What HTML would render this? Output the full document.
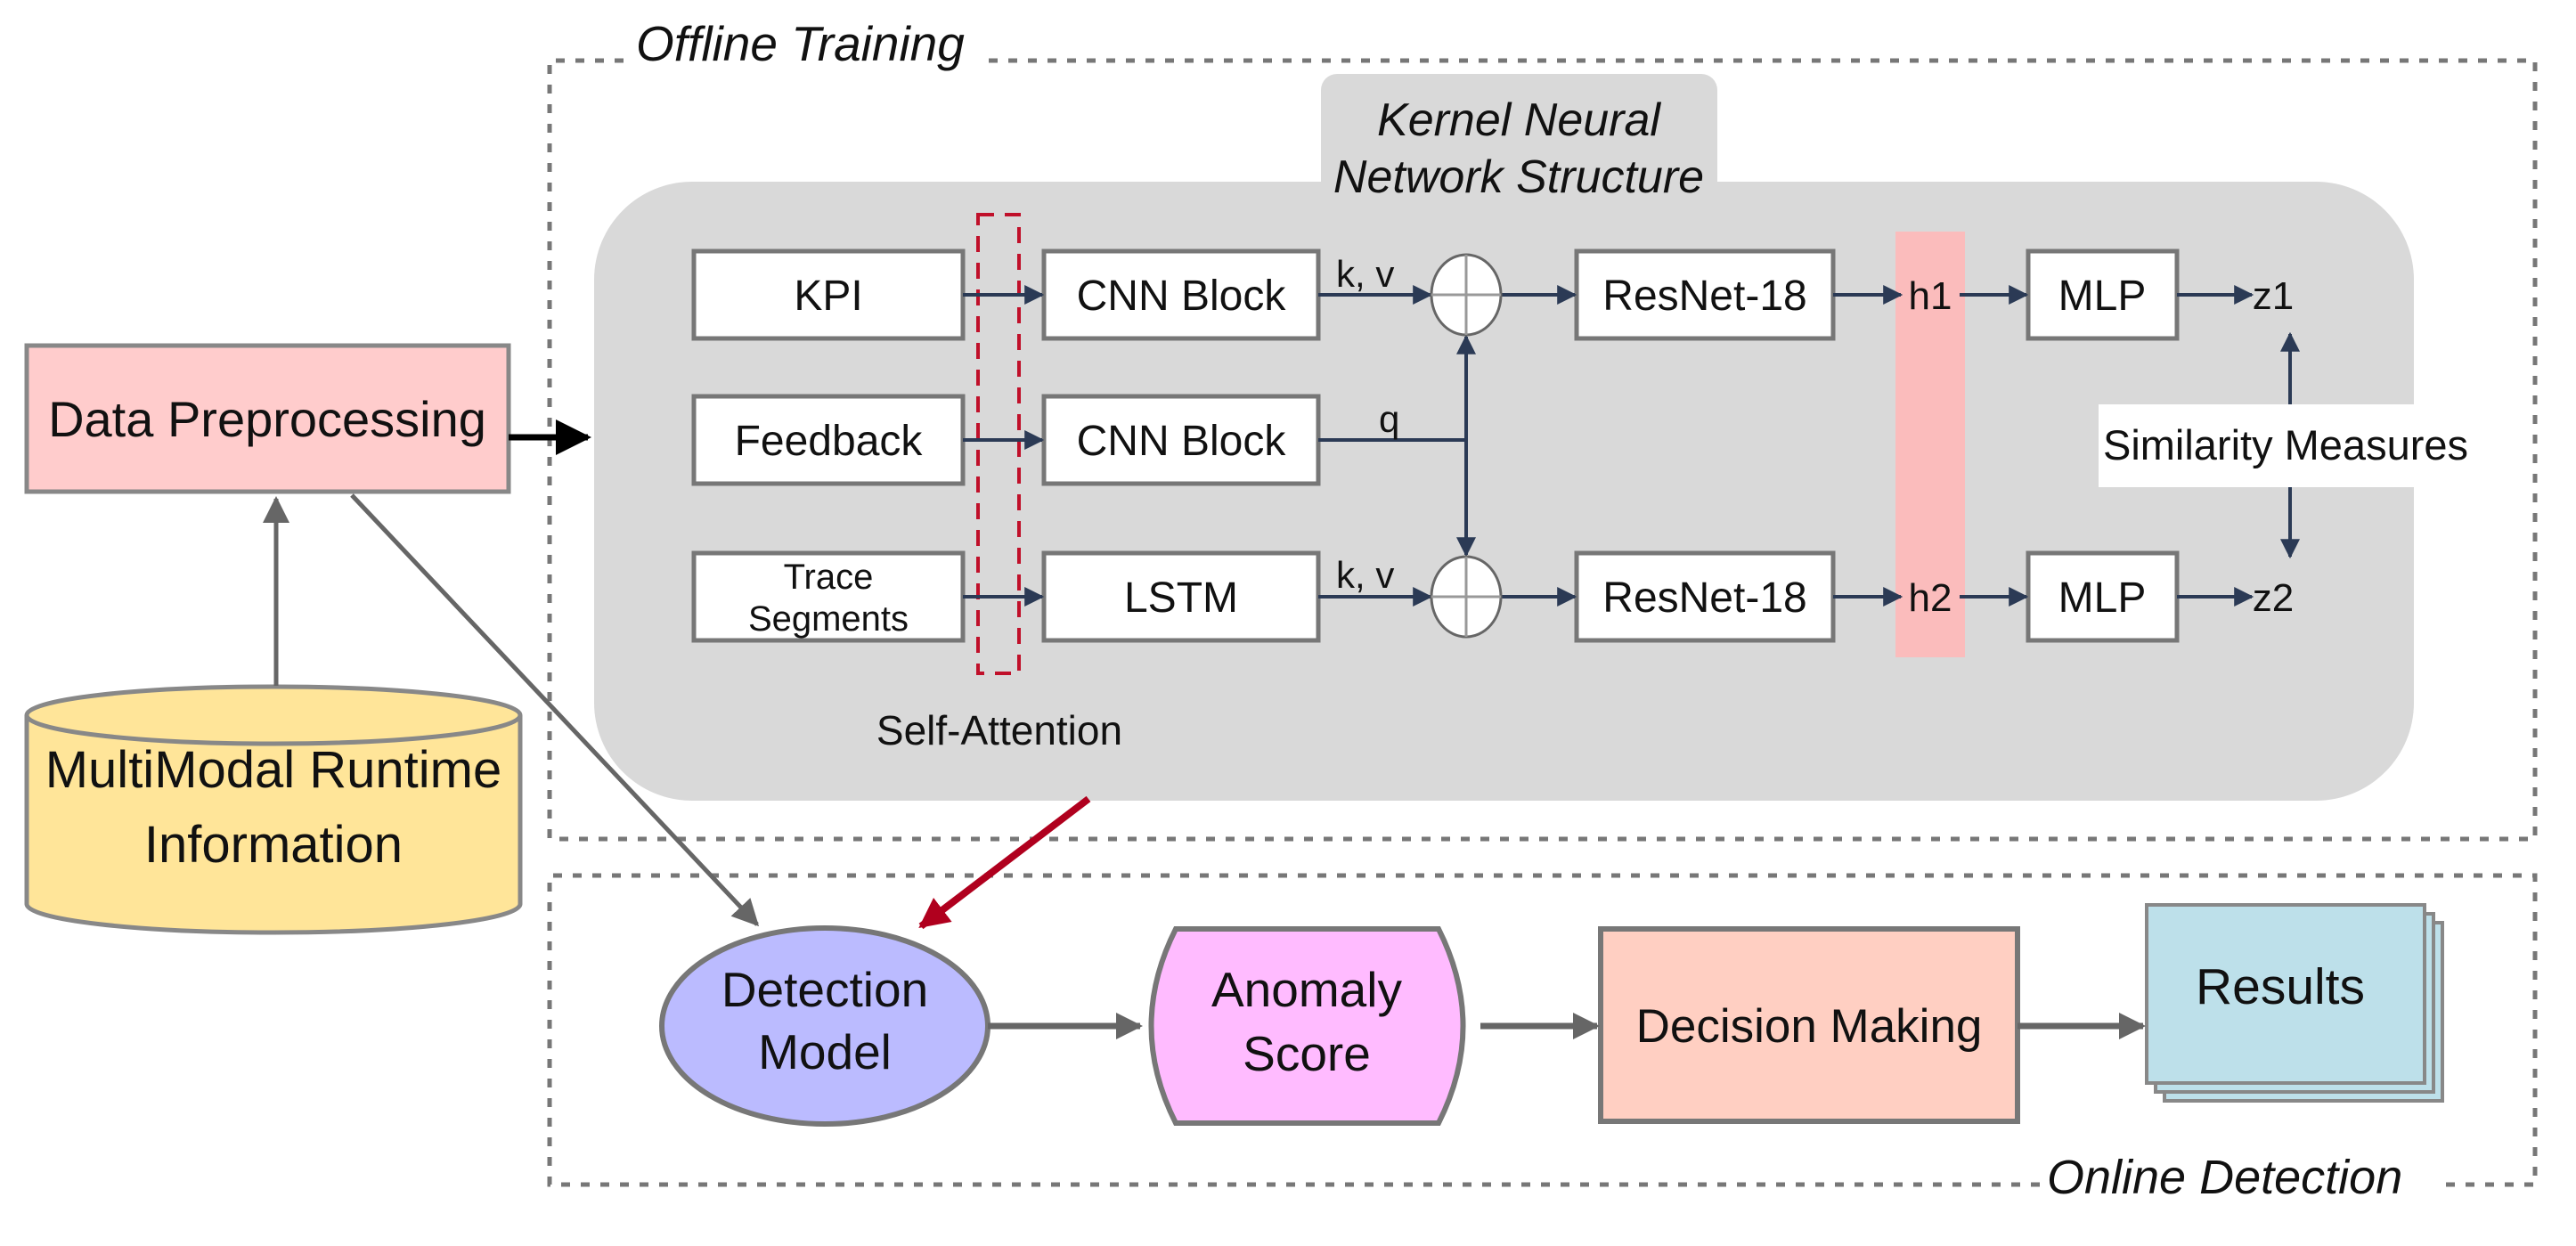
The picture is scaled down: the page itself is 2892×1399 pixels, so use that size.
<!DOCTYPE html>
<html><head><meta charset="utf-8"><style>
html,body{margin:0;padding:0;background:#fff}
svg{display:block}
text{font-family:"Liberation Sans",Arial,sans-serif;fill:#111}
</style></head><body>
<svg width="2892" height="1399" viewBox="0 0 2892 1399" xmlns="http://www.w3.org/2000/svg">
<defs>
<marker id="nb" markerWidth="22" markerHeight="22" refX="9" refY="5" orient="auto" markerUnits="userSpaceOnUse" viewBox="0 0 10 10"><path d="M0,0 L10,5 L0,10 z" fill="#2b3a55"/></marker>
<marker id="ga" viewBox="0 0 10 10" refX="9" refY="5" markerWidth="30" markerHeight="30" orient="auto" markerUnits="userSpaceOnUse"><path d="M0,0 L10,5 L0,10 z" fill="#666"/></marker>
<marker id="ra" viewBox="0 0 10 10" refX="9" refY="5" markerWidth="34" markerHeight="34" orient="auto" markerUnits="userSpaceOnUse"><path d="M0,0 L10,5 L0,10 z" fill="#b0001e"/></marker>
<marker id="ba" viewBox="0 0 10 10" refX="9" refY="5" markerWidth="40" markerHeight="40" orient="auto" markerUnits="userSpaceOnUse"><path d="M0,0 L10,5 L0,10 z" fill="#000"/></marker>
</defs>

<path d="M700,68 H617 V942 H2846 V68 H1110" fill="none" stroke="#777" stroke-width="5" stroke-dasharray="10,12"/>
<text x="714" y="68" font-size="55" font-style="italic">Offline Training</text>

<path d="M2290,1330 H617 V983 H2846 V1330 H2745" fill="none" stroke="#777" stroke-width="5" stroke-dasharray="10,12"/>
<text x="2298" y="1340" font-size="54" font-style="italic">Online Detection</text>

<rect x="1483" y="83" width="445" height="170" rx="18" fill="#d9d9d9"/>
<rect x="667" y="204" width="2043" height="695" rx="110" fill="#d9d9d9"/>
<text x="1705" y="152" font-size="52" font-style="italic" text-anchor="middle">Kernel Neural</text>
<text x="1705" y="216" font-size="52" font-style="italic" text-anchor="middle">Network Structure</text>

<rect x="2128" y="260" width="78" height="478" fill="#fbbcbc"/>

<g fill="#fff" stroke="#777" stroke-width="5">
<rect x="779" y="282" width="302" height="98"/>
<rect x="779" y="445" width="302" height="98"/>
<rect x="779" y="621" width="302" height="98"/>
<rect x="1172" y="282" width="308" height="98"/>
<rect x="1172" y="445" width="308" height="98"/>
<rect x="1172" y="621" width="308" height="98"/>
<rect x="1770" y="282" width="288" height="98"/>
<rect x="1770" y="621" width="288" height="98"/>
<rect x="2277" y="282" width="167" height="98"/>
<rect x="2277" y="621" width="167" height="98"/>
</g>
<g font-size="48" text-anchor="middle">
<text x="930" y="348">KPI</text>
<text x="930" y="511">Feedback</text>
<text x="930" y="661" font-size="40">Trace</text>
<text x="930" y="708" font-size="40">Segments</text>
<text x="1326" y="348">CNN Block</text>
<text x="1326" y="511">CNN Block</text>
<text x="1326" y="687">LSTM</text>
<text x="1914" y="348">ResNet-18</text>
<text x="1914" y="687">ResNet-18</text>
<text x="2360" y="348">MLP</text>
<text x="2360" y="687">MLP</text>
<text x="2167" y="347" font-size="44">h1</text>
<text x="2167" y="686" font-size="44">h2</text>
<text x="2552" y="347" font-size="44">z1</text>
<text x="2552" y="686" font-size="44">z2</text>
<text x="1122" y="836" font-size="46">Self-Attention</text>
</g>

<rect x="1098" y="241" width="46" height="515" fill="none" stroke="#c0102a" stroke-width="4" stroke-dasharray="18,12"/>

<g stroke="#2b3a55" stroke-width="4" fill="none" marker-end="url(#nb)">
<line x1="1081" y1="331" x2="1170" y2="331"/>
<line x1="1081" y1="494" x2="1170" y2="494"/>
<line x1="1081" y1="670" x2="1170" y2="670"/>
<line x1="1480" y1="331" x2="1606" y2="331"/>
<line x1="1480" y1="670" x2="1606" y2="670"/>
<line x1="1686" y1="331" x2="1768" y2="331"/>
<line x1="1686" y1="670" x2="1768" y2="670"/>
<line x1="2058" y1="331" x2="2134" y2="331"/>
<line x1="2058" y1="670" x2="2134" y2="670"/>
<line x1="2200" y1="331" x2="2275" y2="331"/>
<line x1="2200" y1="670" x2="2275" y2="670"/>
<line x1="2444" y1="331" x2="2528" y2="331"/>
<line x1="2444" y1="670" x2="2528" y2="670"/>
<line x1="1646" y1="494" x2="1646" y2="378"/>
<line x1="1646" y1="494" x2="1646" y2="623"/>
<line x1="2571" y1="454" x2="2571" y2="375"/>
<line x1="2571" y1="547" x2="2571" y2="625"/>
</g>
<line x1="1480" y1="494" x2="1646" y2="494" stroke="#2b3a55" stroke-width="4"/>
<text x="1500" y="322" font-size="42">k, v</text>
<text x="1500" y="660" font-size="42">k, v</text>
<text x="1548" y="485" font-size="42">q</text>

<g fill="#fff" stroke="#666" stroke-width="3">
<ellipse cx="1646" cy="331" rx="39" ry="45"/>
<ellipse cx="1646" cy="670" rx="39" ry="45"/>
</g>
<g stroke="#999" stroke-width="3">
<line x1="1607" y1="331" x2="1685" y2="331"/><line x1="1646" y1="286" x2="1646" y2="376"/>
<line x1="1607" y1="670" x2="1685" y2="670"/><line x1="1646" y1="625" x2="1646" y2="715"/>
</g>

<rect x="2356" y="454" width="420" height="93" fill="#fff"/>
<text x="2566" y="516" font-size="47" text-anchor="middle">Similarity Measures</text>

<rect x="30" y="388" width="541" height="164" fill="#ffcccc" stroke="#888" stroke-width="5"/>
<text x="300" y="490" font-size="56" text-anchor="middle">Data Preprocessing</text>
<line x1="571" y1="491" x2="660" y2="491" stroke="#000" stroke-width="7" marker-end="url(#ba)"/>

<path d="M30,803 V1015 A277,32 0 0 0 584,1015 V803" fill="#ffe599" stroke="#888" stroke-width="5"/>
<ellipse cx="307" cy="803" rx="277" ry="32" fill="#ffe599" stroke="#888" stroke-width="5"/>
<text x="307" y="884" font-size="58" text-anchor="middle">MultiModal Runtime</text>
<text x="307" y="968" font-size="58" text-anchor="middle">Information</text>
<line x1="310" y1="770" x2="310" y2="560" stroke="#666" stroke-width="5" marker-end="url(#ga)"/>

<line x1="395" y1="556" x2="850" y2="1038" stroke="#666" stroke-width="5" marker-end="url(#ga)"/>
<line x1="1222" y1="897" x2="1034" y2="1040" stroke="#b0001e" stroke-width="8" marker-end="url(#ra)"/>

<ellipse cx="926" cy="1152" rx="183" ry="110" fill="#bbbbff" stroke="#777" stroke-width="6"/>
<text x="926" y="1130" font-size="55" text-anchor="middle">Detection</text>
<text x="926" y="1200" font-size="55" text-anchor="middle">Model</text>
<path d="M1320,1043 H1615 Q1670,1152 1615,1261 H1320 Q1265,1152 1320,1043 Z" fill="#ffbbff" stroke="#777" stroke-width="6"/>
<text x="1467" y="1130" font-size="55" text-anchor="middle">Anomaly</text>
<text x="1467" y="1202" font-size="55" text-anchor="middle">Score</text>
<rect x="1797" y="1043" width="468" height="216" fill="#ffcfc2" stroke="#777" stroke-width="6"/>
<text x="2031" y="1170" font-size="53" text-anchor="middle">Decision Making</text>
<rect x="2430" y="1036" width="312" height="200" fill="#bde0ea" stroke="#888" stroke-width="4"/>
<rect x="2420" y="1026" width="312" height="200" fill="#bde0ea" stroke="#888" stroke-width="4"/>
<rect x="2410" y="1016" width="312" height="200" fill="#bde0ea" stroke="#888" stroke-width="4"/>
<text x="2560" y="1127" font-size="57" text-anchor="middle">Results</text>
<g stroke="#666" stroke-width="7" marker-end="url(#ga)">
<line x1="1109" y1="1152" x2="1280" y2="1152"/>
<line x1="1662" y1="1152" x2="1793" y2="1152"/>
<line x1="2265" y1="1152" x2="2406" y2="1152"/>
</g>
</svg>
</body></html>
